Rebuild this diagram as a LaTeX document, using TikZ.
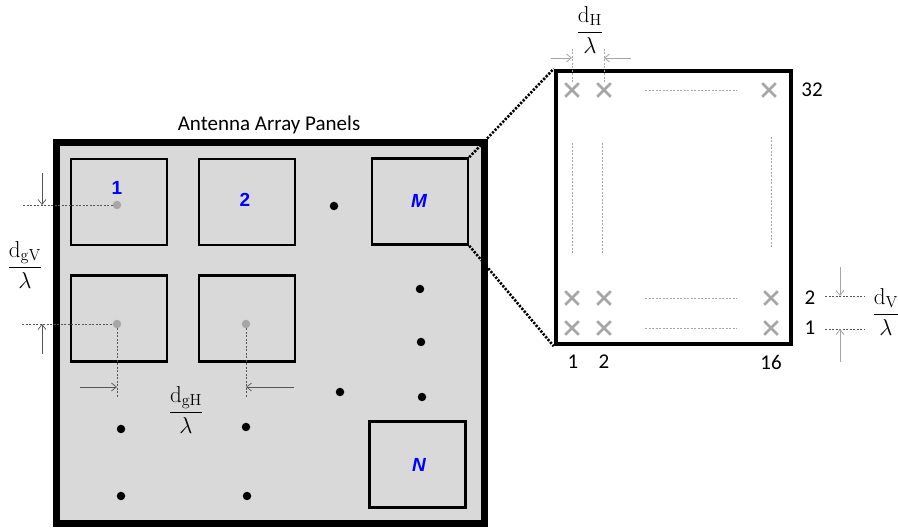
\RequirePackage{fix-cm}
\documentclass[tikz,border=0pt]{standalone}
\usepackage[no-math]{fontspec}
\setmainfont{Carlito}
\newfontfamily\labelfont{Liberation Sans}
\usetikzlibrary{shapes.misc, arrows.meta}

\definecolor{panelgray}{HTML}{D9D9D9}
\definecolor{elemgray}{HTML}{A6A6A6}
\definecolor{labelblue}{HTML}{0000FF}
\definecolor{dimdark}{HTML}{555555}

\tikzset{
  arraybox/.style={draw, line width=7, fill=panelgray, minimum width=428, minimum height=381, inner sep=0},
  panel/.style={draw, line width=2.5, minimum width=96, minimum height=86, inner sep=0},
  zoombox/.style={draw, line width=4.5, fill=white, minimum width=235, minimum height=273, inner sep=0},
  numlab/.style={text=labelblue, font=\labelfont\fontsize{19}{22}\selectfont\bfseries},
  blackdot/.style={circle, fill=black, minimum size=8.5, inner sep=0},
  graydot/.style={circle, fill=elemgray, minimum size=8.5, inner sep=0},
  xmark/.style={cross out, draw=elemgray, line width=2.6, minimum size=11, inner sep=0},
  dimline/.style={dashed, dash pattern=on 2pt off 1.5pt, line width=0.6, draw=dimdark},
  lightline/.style={dashed, dash pattern=on 2pt off 1.5pt, line width=0.6, draw=elemgray},
  dimarrow/.style={-{Straight Barb[length=5,width=8]}, line width=0.7, draw=dimdark},
  lightarrow/.style={-{Straight Barb[length=5,width=8]}, line width=0.8, draw=elemgray},
  zoomline/.style={dash pattern=on 2.2pt off 1.5pt, line width=2.6},
  txt/.style={font=\fontsize{21}{24}\selectfont, inner sep=0},
  frac/.style={font=\fontsize{23}{27}\selectfont, inner sep=0},
}

\begin{document}
\begin{tikzpicture}[x=1pt, y=-1pt]
\useasboundingbox (0,0) rectangle (898,529);

% array of panels
\node[arraybox] (array) at (270,333.5) {};
\node[txt] (title) at (269,125) {Antenna Array Panels};

\node[panel] (p1) at (119,202) {};
\node[panel] (p2) at (247,202) {};
\node[panel] (p3) at (119,318.5) {};
\node[panel] (p4) at (247,318.5) {};
\node[panel] (pM) at (420,201.5) {};
\node[panel] (pN) at (417.5,464.5) {};

\node[numlab] (l1) at (117,188) {1};
\node[numlab] (l2) at (245,200) {2};
\node[numlab] (lM) at (419,201) {\itshape M};
\node[numlab] (lN) at (419,465) {\itshape N};

% panel reference points
\node[graydot] (g1) at (117,205) {};
\node[graydot] (g3) at (117,324) {};
\node[graydot] (g4) at (246,324) {};

% omitted panels
\node[blackdot] (b1) at (334,206) {};
\node[blackdot] (b2) at (420,289) {};
\node[blackdot] (b3) at (421,342) {};
\node[blackdot] (b4) at (340,392) {};
\node[blackdot] (b5) at (422,397) {};
\node[blackdot] (b6) at (121,429) {};
\node[blackdot] (b7) at (246,427) {};
\node[blackdot] (b8) at (121,496) {};
\node[blackdot] (b9) at (247,496) {};

% vertical panel spacing
\coordinate (v1) at (23,205);
\coordinate (v2) at (22,324);
\draw[dimline] (v1) -- (g1);
\draw[dimline] (v2) -- (g3);
\coordinate (va1) at (42,173);
\coordinate (va1e) at (42,205);
\coordinate (va2) at (42,354);
\coordinate (va2e) at (42,324);
\draw[dimarrow] (va1) -- (va1e);
\draw[dimarrow] (va2) -- (va2e);
\node[frac] (fgv) at (25,265) {$\displaystyle\frac{\mathrm{d}_{\mathrm{gV}}}{\lambda}$};

% horizontal panel spacing
\coordinate (h1) at (117,397);
\coordinate (h2) at (246,397);
\draw[dimline] (g3) -- (h1);
\draw[dimline] (g4) -- (h2);
\coordinate (ha1) at (80,387);
\coordinate (ha1e) at (117,387);
\coordinate (ha2) at (294,387);
\coordinate (ha2e) at (246,387);
\draw[dimarrow] (ha1) -- (ha1e);
\draw[dimarrow] (ha2) -- (ha2e);
\node[frac] (fgh) at (186,410) {$\displaystyle\frac{\mathrm{d}_{\mathrm{gH}}}{\lambda}$};

% single panel, enlarged
\node[zoombox] (box) at (673.5,207.5) {};
\draw[zoomline] (pM.north east) -- (box.north west);
\draw[zoomline] (pM.south east) -- (box.south west);

\node[xmark] (e1) at (572,90) {};
\node[xmark] (e2) at (604,90) {};
\node[xmark] (e3) at (769,90) {};
\node[xmark] (e4) at (572,298) {};
\node[xmark] (e5) at (604,298) {};
\node[xmark] (e6) at (771,298) {};
\node[xmark] (e7) at (572,328) {};
\node[xmark] (e8) at (604,328) {};
\node[xmark] (e9) at (771,328) {};

% omitted elements
\coordinate (r1a) at (645,90);  \coordinate (r1b) at (737,90);
\coordinate (r2a) at (645,298); \coordinate (r2b) at (737,298);
\coordinate (r3a) at (645,328); \coordinate (r3b) at (737,328);
\draw[lightline] (r1a) -- (r1b);
\draw[lightline] (r2a) -- (r2b);
\draw[lightline] (r3a) -- (r3b);
\coordinate (c1a) at (572,143); \coordinate (c1b) at (572,253);
\coordinate (c2a) at (602,143); \coordinate (c2b) at (602,253);
\coordinate (c3a) at (771,137); \coordinate (c3b) at (771,248);
\draw[lightline] (c1a) -- (c1b);
\draw[lightline] (c2a) -- (c2b);
\draw[lightline] (c3a) -- (c3b);

% element indices
\node[txt] (n32) at (812,90) {32};
\node[txt] (nc1) at (573,362) {1};
\node[txt] (nc2) at (604,362) {2};
\node[txt] (nc16) at (771,362) {16};
\node[txt] (nr2) at (810,298) {2};
\node[txt] (nr1) at (810,328) {1};

% horizontal element spacing
\coordinate (t1) at (572,49);
\coordinate (t2) at (604,49);
\draw[lightline] (t1) -- (e1);
\draw[lightline] (t2) -- (e2);
\coordinate (ta1) at (551,58);  \coordinate (ta1e) at (572,58);
\coordinate (ta2) at (631,58);  \coordinate (ta2e) at (604,58);
\draw[lightarrow] (ta1) -- (ta1e);
\draw[lightarrow] (ta2) -- (ta2e);
\node[frac] (fh) at (590,30) {$\displaystyle\frac{\mathrm{d}_{\mathrm{H}}}{\lambda}$};

% vertical element spacing
\coordinate (s1a) at (825,296); \coordinate (s1b) at (865,296);
\coordinate (s2a) at (825,329); \coordinate (s2b) at (865,329);
\draw[dimline] (s1a) -- (s1b);
\draw[dimline] (s2a) -- (s2b);
\coordinate (sa1) at (840,267); \coordinate (sa1e) at (840,296);
\coordinate (sa2) at (840,362); \coordinate (sa2e) at (840,329);
\draw[lightarrow] (sa1) -- (sa1e);
\draw[lightarrow] (sa2) -- (sa2e);
\node[frac] (fv) at (886,312) {$\displaystyle\frac{\mathrm{d}_{\mathrm{V}}}{\lambda}$};
\end{tikzpicture}
\end{document}
